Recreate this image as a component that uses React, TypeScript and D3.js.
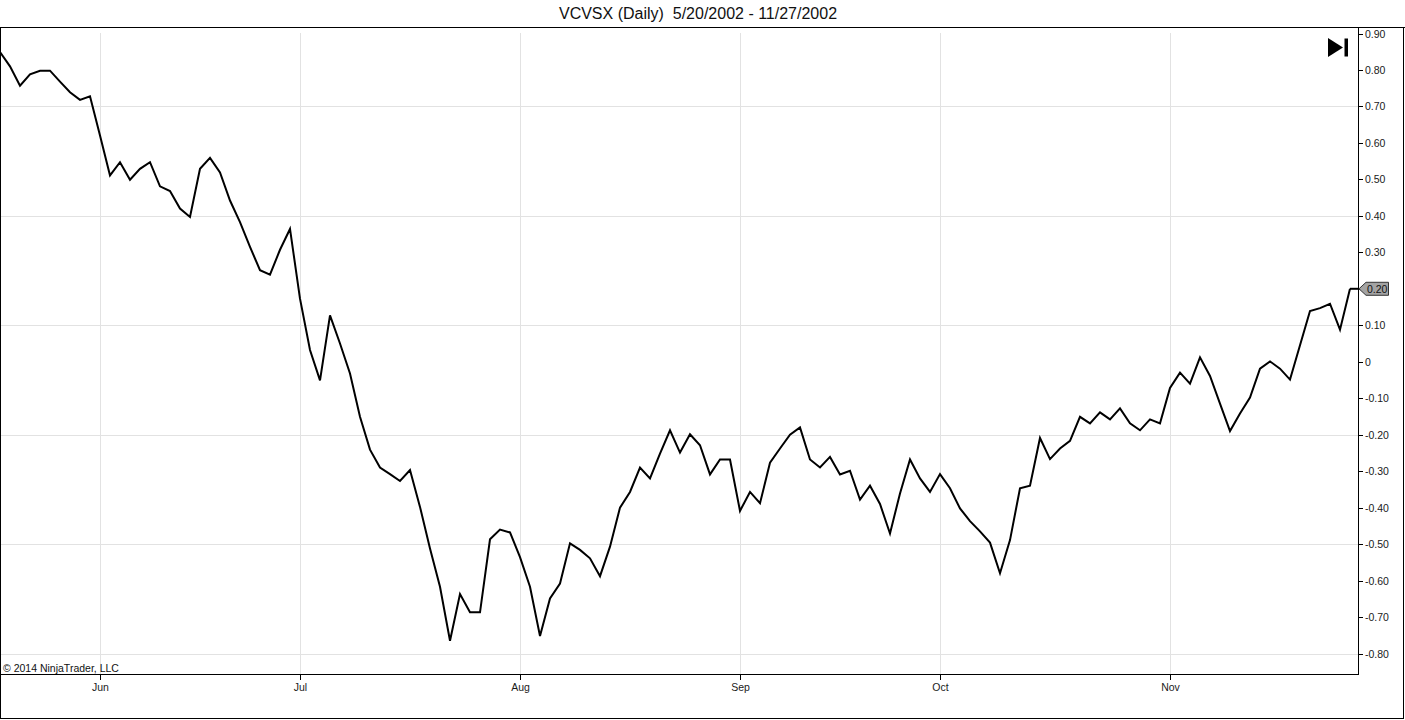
import React from "react";
import * as d3 from "d3";

// ---- data (index = trading day, starting one session before 5/20/2002) ----
const values: number[] = [
  0.849, 0.81, 0.757, 0.788, 0.798, 0.798, 0.768, 0.739, 0.718, 0.728,
  0.62, 0.511, 0.547, 0.499, 0.529, 0.547, 0.481, 0.468, 0.42, 0.397,
  0.529, 0.559, 0.519, 0.442, 0.383, 0.315, 0.251, 0.239, 0.307, 0.364,
  0.173, 0.032, -0.051, 0.127, 0.05, -0.032, -0.151, -0.241, -0.29, -0.308,
  -0.327, -0.297, -0.398, -0.512, -0.617, -0.765, -0.637, -0.687, -0.687, -0.487,
  -0.46, -0.468, -0.536, -0.617, -0.752, -0.649, -0.608, -0.498, -0.516, -0.539,
  -0.588, -0.507, -0.4, -0.357, -0.29, -0.32, -0.252, -0.188, -0.249, -0.199,
  -0.229, -0.309, -0.268, -0.268, -0.409, -0.357, -0.388, -0.277, -0.238, -0.2,
  -0.18, -0.268, -0.29, -0.261, -0.309, -0.299, -0.378, -0.34, -0.39, -0.471,
  -0.361, -0.268, -0.32, -0.357, -0.308, -0.347, -0.402, -0.437, -0.465, -0.496,
  -0.58, -0.489, -0.347, -0.34, -0.209, -0.267, -0.238, -0.217, -0.151, -0.169,
  -0.139, -0.158, -0.128, -0.169, -0.188, -0.158, -0.169, -0.072, -0.03, -0.06,
  0.012, -0.039, -0.115, -0.19, -0.142, -0.098, -0.019, 0.001, -0.019, -0.049,
  0.045, 0.139, 0.147, 0.159, 0.088, 0.2,
];

const monthTickIndex: number[] = [10, 30, 52, 74, 94, 117];
const monthLabels: string[] = ["Jun", "Jul", "Aug", "Sep", "Oct", "Nov"];

const yTickValues: number[] = [
  0.9, 0.8, 0.7, 0.6, 0.5, 0.4, 0.3, 0.2, 0.1, 0, -0.1, -0.2, -0.3, -0.4, -0.5,
  -0.6, -0.7, -0.8,
];
const yGridValues: number[] = [0.7, 0.4, 0.1, -0.2, -0.5, -0.8];

const titleText = "VCVSX (Daily)\u00A0\u00A05/20/2002 - 11/27/2002";
const copyrightText = "\u00A9 2014 NinjaTrader, LLC";

// ---- layout ----
const W = 1405;
const H = 720;
const plotLeft = 0;
const plotTop = 27;
const plotRight = 1358;
const plotBottom = 674;
const font = "'Liberation Sans', Arial, Helvetica, sans-serif";

export default function App() {
  const x = d3
    .scaleLinear()
    .domain([0, values.length - 1])
    .range([0, 1350]);
  const y = d3.scaleLinear().domain([-0.8, 0.9]).range([653.5, 33.5]);

  const line = d3
    .line<number>()
    .x((_, i) => x(i))
    .y((d) => y(d));

  const lastVal = values[values.length - 1];
  const lastY = y(lastVal);
  const fmt = (v: number) => (Math.abs(v) < 1e-9 ? "0" : v.toFixed(2));

  return (
    <svg
      width={W}
      height={H}
      style={{ position: "absolute", left: 0, top: 0, background: "#fff" }}
      fontFamily={font}
    >
      <defs>
        <clipPath id="plotClip">
          <rect
            x={plotLeft}
            y={plotTop}
            width={plotRight - plotLeft}
            height={plotBottom - plotTop}
          />
        </clipPath>
      </defs>

      {/* title */}
      <text x={698} y={18.5} fontSize={16} textAnchor="middle" fill="#111">
        {titleText}
      </text>

      {/* grid */}
      {yGridValues.map((v) => (
        <line
          key={"hg" + v}
          x1={plotLeft}
          x2={plotRight}
          y1={Math.round(y(v)) + 0.5}
          y2={Math.round(y(v)) + 0.5}
          stroke="#e2e2e2"
          strokeWidth={1}
        />
      ))}
      {monthTickIndex.map((idx) => (
        <line
          key={"vg" + idx}
          x1={Math.round(x(idx)) + 0.5}
          x2={Math.round(x(idx)) + 0.5}
          y1={33}
          y2={plotBottom}
          stroke="#e2e2e2"
          strokeWidth={1}
        />
      ))}

      {/* data line */}
      <g clipPath="url(#plotClip)">
        <path
          d={line(values) || ""}
          fill="none"
          stroke="#000"
          strokeWidth={2}
          strokeLinejoin="miter"
        />
        <line
          x1={x(values.length - 1)}
          x2={plotRight}
          y1={lastY}
          y2={lastY}
          stroke="#000"
          strokeWidth={2}
        />
      </g>

      {/* copyright */}
      <text x={3} y={672} fontSize={10.5} fill="#111">
        {copyrightText}
      </text>

      {/* frame */}
      <line x1={0} x2={W} y1={27.5} y2={27.5} stroke="#000" />
      <line x1={0.5} x2={0.5} y1={27} y2={719} stroke="#000" />
      <line x1={W - 1.5} x2={W - 1.5} y1={27} y2={719} stroke="#000" />
      <line x1={0} x2={W - 1} y1={718.5} y2={718.5} stroke="#000" />
      <line x1={0} x2={plotRight + 0.5} y1={plotBottom + 0.5} y2={plotBottom + 0.5} stroke="#000" />
      <line x1={plotRight + 0.5} x2={plotRight + 0.5} y1={27} y2={plotBottom + 1} stroke="#000" />

      {/* y axis */}
      {yTickValues.map((v) => {
        const yy = Math.round(y(v)) + 0.5;
        return (
          <g key={"yt" + v}>
            <line x1={plotRight + 1} x2={plotRight + 5} y1={yy} y2={yy} stroke="#000" />
            <text x={1365} y={yy + 3.8} fontSize={10.5} fill="#1a1a1a">
              {fmt(v)}
            </text>
          </g>
        );
      })}

      {/* x axis */}
      {monthTickIndex.map((idx, i) => {
        const xx = Math.round(x(idx)) + 0.5;
        return (
          <g key={"xt" + idx}>
            <line x1={xx} x2={xx} y1={plotBottom + 1} y2={plotBottom + 6} stroke="#000" />
            <text x={xx} y={691} fontSize={10.5} textAnchor="middle" fill="#1a1a1a">
              {monthLabels[i]}
            </text>
          </g>
        );
      })}

      {/* last value marker */}
      <g>
        <path
          d={`M${plotRight + 1},${lastY} L${plotRight + 8},${lastY - 6.5} L${plotRight + 30.5},${lastY - 6.5} L${plotRight + 30.5},${lastY + 6.5} L${plotRight + 8},${lastY + 6.5} Z`}
          fill="#a3a3a3"
          stroke="#333"
          strokeWidth={1}
        />
        <text x={plotRight + 9} y={lastY + 3.8} fontSize={10.5} fill="#111">
          {fmt(lastVal)}
        </text>
      </g>

      {/* go-to-end icon */}
      <path d="M1328,38 L1343,47.5 L1328,57 Z" fill="#000" />
      <rect x={1344.5} y={38.5} width={3.5} height={18} fill="#000" />
    </svg>
  );
}
